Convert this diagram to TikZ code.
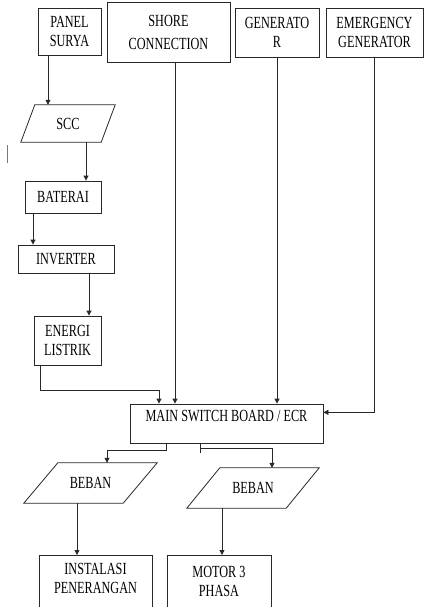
\documentclass[tikz,border=0pt]{standalone}
\usepackage{fontspec}
\setmainfont{Liberation Serif}[FakeStretch=0.72]
\usepackage{tikz}
\usetikzlibrary{
  arrows.meta,
  calc,
  positioning
}
\definecolor{inkline}{RGB}{40,40,40}
\definecolor{cursorgray}{RGB}{120,120,120}
\newcommand{\boxfont}{\fontsize{17}{19}\selectfont}
\newcommand{\slantbox}[2]{%
  \draw[wire] ([xshift=#2]#1.north west) -- (#1.north east)
    -- ([xshift=-#2]#1.south east) -- (#1.south west) -- cycle;}
\tikzset{
  block/.style={draw=inkline,line width=0.8pt,align=center,
    inner sep=0pt,font=\boxfont},
  io/.style={align=center,inner sep=0pt,font=\boxfont},
  lbl/.style={align=center,inner sep=0pt,font=\boxfont},
  wire/.style={draw=inkline,line width=0.8pt},
  flow/.style={-{Triangle[length=5pt,width=5pt]},line width=0.8pt,draw=inkline}
}

\begin{document}
\begin{tikzpicture}[x=1pt,y=-1pt]
  \useasboundingbox (0,0) rectangle (424,607);
  \clip (0,0) rectangle (424,607);
  % sources
  \node[block,minimum width=63pt,minimum height=47pt] (panel) at (69.5,31.5) {PANEL\\SURYA};
  \node[block,minimum width=123pt,minimum height=60pt] (shore) at (168.5,32) {SHORE\\[4pt]CONNECTION};
  \node[block,minimum width=84pt,minimum height=49pt] (gen) at (277,32.5) {GENERATO\\R};
  \node[block,minimum width=97pt,minimum height=49pt] (emg) at (374.5,32.5) {EMERGENCY\\GENERATOR};
  % solar chain
  \node[io,minimum width=94pt,minimum height=37pt] (scc) at (68,123.5) {SCC};
  \slantbox{scc}{14pt}
  \node[block,minimum width=76pt,minimum height=32pt] (bat) at (63,197) {BATERAI};
  \node[block,minimum width=96pt,minimum height=28pt] (inv) at (66,259) {INVERTER};
  \node[block,minimum width=67pt,minimum height=49pt] (energi) at (67.5,340.5) {ENERGI\\LISTRIK};
  \draw[draw=cursorgray,line width=0.8pt] (7,145) -- (7,163);
  % switch board
  \node[block,minimum width=193pt,minimum height=39pt,
    label={[lbl,anchor=north,yshift=-6pt]north:MAIN SWITCH BOARD / ECR}] (msb) at (226.5,423.5) {};
  % loads
  \node[io,minimum width=133pt,minimum height=40pt] (beban1) at (90.5,483) {BEBAN};
  \slantbox{beban1}{34pt}
  \node[io,minimum width=132pt,minimum height=40pt] (beban2) at (253,488) {BEBAN};
  \slantbox{beban2}{33pt}
  \node[block,minimum width=113pt,minimum height=70pt,anchor=north,
    label={[lbl,anchor=north,yshift=-8pt]north:INSTALASI\\PENERANGAN}] (inst) at (95.5,555) {};
  \node[block,minimum width=104pt,minimum height=70pt,anchor=north,
    label={[lbl,anchor=north,yshift=-11pt]north:MOTOR 3\\PHASA}] (motor) at (219,555) {};
  % columns and bends
  \coordinate (cPanel) at (48,0);
  \coordinate (cScc) at (86,0);
  \coordinate (cBat) at (33,0);
  \coordinate (cInv) at (89,0);
  \coordinate (cEnergi) at (40,0);
  \coordinate (bendEnergi) at (159,390);
  \coordinate (cShore) at (175,0);
  \coordinate (cLeft) at (166,0);
  \coordinate (bendLeft) at (107,450);
  \coordinate (tickRight) at (200,453);
  \coordinate (bendRight) at (200,448);
  \coordinate (cRight) at (272,0);
  \coordinate (cInst) at (77,0);
  \coordinate (cMotor) at (222,0);
  % connectors
  \draw[flow] (panel.south -| cPanel) -- (scc.north -| cPanel);
  \draw[flow] (scc.south -| cScc) -- (bat.north -| cScc);
  \draw[flow] (bat.south -| cBat) -- (inv.north -| cBat);
  \draw[flow] (inv.south -| cInv) -- (energi.north -| cInv);
  \draw[flow] (energi.south -| cEnergi) |- (bendEnergi) -- (msb.north -| bendEnergi);
  \draw[flow] (shore.south -| cShore) -- (msb.north -| cShore);
  \draw[flow] (gen.south) -- (gen.south |- msb.north);
  \draw[flow] (emg.south) |- ($(msb.north east)!0.22!(msb.south east)$);
  \draw[flow] (msb.south -| cLeft) |- (bendLeft) -- (beban1.north -| bendLeft);
  \draw[wire] (msb.south -| tickRight) -- (tickRight);
  \draw[flow] (bendRight) -| (beban2.north -| cRight);
  \draw[flow] (beban1.south -| cInst) -- (inst.north -| cInst);
  \draw[flow] (beban2.south -| cMotor) -- (motor.north -| cMotor);
\end{tikzpicture}
\end{document}
